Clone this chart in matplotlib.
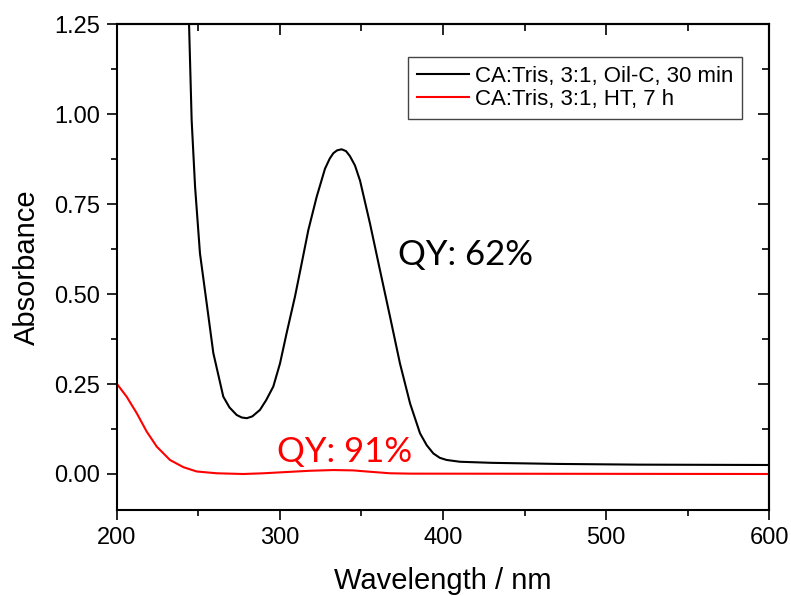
import numpy as np
import matplotlib
matplotlib.use("Agg")
import matplotlib.pyplot as plt
from matplotlib.ticker import MultipleLocator

plt.rcParams['font.family'] = ['Liberation Sans', 'DejaVu Sans']

# UV-vis absorbance spectra
wl_oil = [243.0, 244.2, 245.8, 247.9, 250.9, 255.0, 259.1, 265.2, 269.0, 273.4,
          276.5, 279.6, 283.0, 287.7, 291.5, 295.9, 300.0, 304.1, 309.2, 313.3,
          317.4, 322.5, 327.6, 330.5, 332.7, 335.0, 337.8, 340.5, 342.9, 346.0,
          349.1, 355.2, 361.3, 367.5, 373.6, 379.8, 385.9, 390.0, 394.1, 398.0,
          402.2, 410.4, 430.0, 470.0, 520.0, 600.0]
abs_oil = [1.32, 1.25, 0.983, 0.798, 0.613, 0.475, 0.336, 0.215, 0.185, 0.164,
           0.157, 0.155, 0.160, 0.178, 0.205, 0.243, 0.307, 0.392, 0.493, 0.585,
           0.678, 0.770, 0.848, 0.876, 0.891, 0.899, 0.902, 0.897, 0.883, 0.857,
           0.815, 0.696, 0.567, 0.437, 0.307, 0.196, 0.113, 0.080, 0.057, 0.045,
           0.039, 0.034, 0.031, 0.028, 0.026, 0.025]

wl_ht = [200.0, 205.9, 212.1, 218.2, 224.4, 232.5, 240.7, 248.9, 261.2, 277.5,
         289.8, 302.0, 318.4, 332.7, 345.0, 353.0, 367.5, 380.0, 600.0]
abs_ht = [0.250, 0.215, 0.169, 0.118, 0.076, 0.039, 0.019, 0.007, 0.002, 0.000,
          0.002, 0.005, 0.009, 0.011, 0.010, 0.007, 0.002, 0.001, 0.000]

label_oil = "CA:Tris, 3:1, Oil-C, 30 min"
label_ht = "CA:Tris, 3:1, HT, 7 h"

fig = plt.figure(figsize=(7.91, 5.96), dpi=100)
ax = fig.add_axes([0.1479, 0.1443, 0.8243, 0.8154])

ax.plot(wl_oil, abs_oil, color='black', lw=1.5, label=label_oil)
ax.plot(wl_ht, abs_ht, color='red', lw=1.5, label=label_ht)

ax.set_xlim(200, 600)
ax.set_ylim(-0.1, 1.25)
ax.xaxis.set_major_locator(MultipleLocator(100))
ax.xaxis.set_minor_locator(MultipleLocator(50))
ax.yaxis.set_major_locator(MultipleLocator(0.25))
ax.yaxis.set_minor_locator(MultipleLocator(0.125))
ax.yaxis.set_major_formatter(matplotlib.ticker.FormatStrFormatter('%.2f'))

for s in ax.spines.values():
    s.set_linewidth(1.5)

# outward ticks on the labelled sides, inward on top/right
ax.tick_params(which='both', direction='out', width=1.2, labelsize=17,
               top=False, right=False)
ax.tick_params(which='major', length=7, pad=5)
ax.tick_params(which='minor', length=4)
ax2 = ax.secondary_xaxis('top')
ax2.set_xticks(np.arange(200, 601, 100))
ax2.xaxis.set_minor_locator(MultipleLocator(50))
ax2.tick_params(which='both', direction='in', width=1.2, labeltop=False)
ax2.tick_params(which='major', length=8)
ax2.tick_params(which='minor', length=5)
ax3 = ax.secondary_yaxis('right')
ax3.set_yticks(np.arange(0, 1.26, 0.25))
ax3.yaxis.set_minor_locator(MultipleLocator(0.125))
ax3.tick_params(which='both', direction='in', width=1.2, labelright=False)
ax3.tick_params(which='major', length=8)
ax3.tick_params(which='minor', length=5)
for a in (ax2, ax3):
    for s in a.spines.values():
        s.set_linewidth(1.5)

ax.set_xlabel("Wavelength / nm", fontsize=21)
ax.set_ylabel("Absorbance", fontsize=21)
ax.xaxis.set_label_coords(0.5, -0.118)
ax.yaxis.set_label_coords(-0.117, 0.5)

ax.text(372.4, 0.581, "QY: 62%", fontsize=25, family=['Lato', 'DejaVu Sans'],
        color='black', ha='left', va='baseline')
ax.text(297.9, 0.034, "QY: 91%", fontsize=25, family=['Lato', 'DejaVu Sans'],
        color='red', ha='left', va='baseline')

leg = ax.legend(loc='upper right', bbox_to_anchor=(0.9586, 0.932),
                borderaxespad=0, fontsize=16, fancybox=False, framealpha=1,
                edgecolor='#444444', handlelength=2.35, handletextpad=0.25,
                labelspacing=0.1, borderpad=0.4)
leg.get_frame().set_linewidth(1.0)

fig.savefig("out.png", dpi=100)
